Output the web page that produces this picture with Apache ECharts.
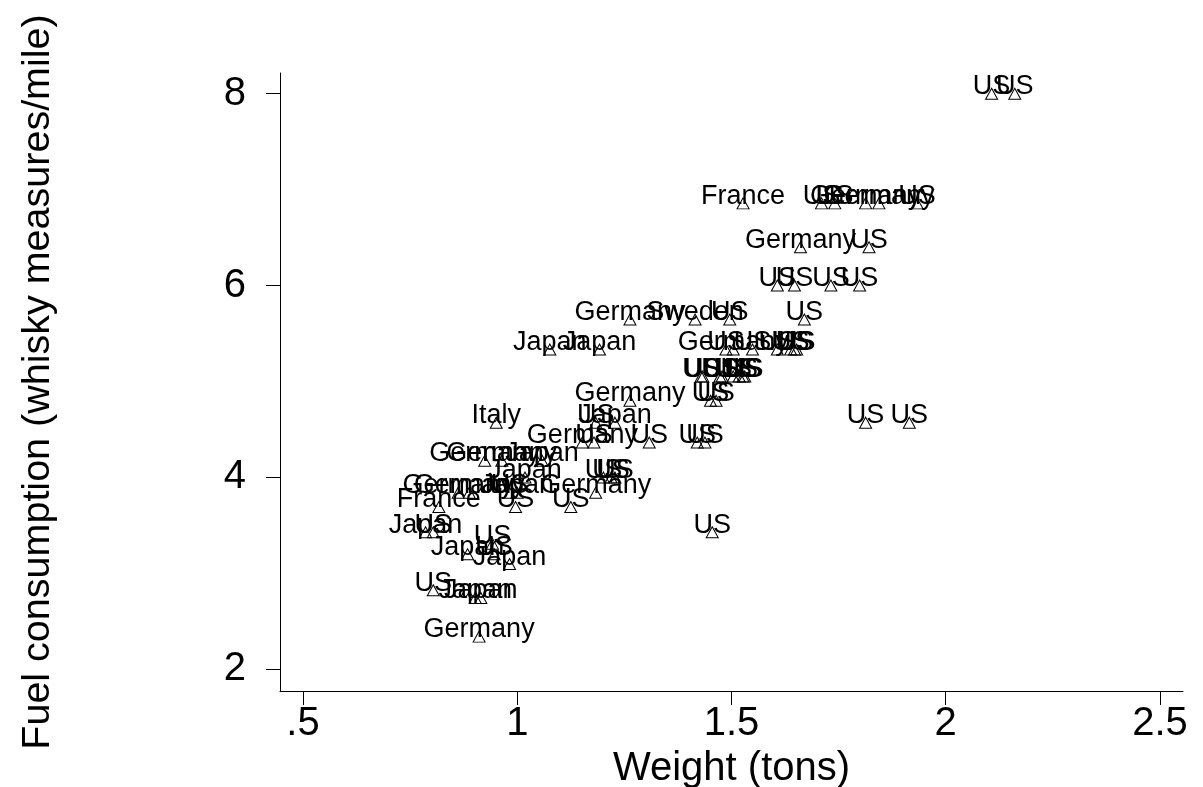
<!DOCTYPE html>
<html>
<head>
<meta charset="utf-8">
<script src="https://cdn.jsdelivr.net/npm/echarts@6/dist/echarts.min.js"></script>
<style>
html,body{margin:0;padding:0;background:#fff;}
#chart{width:1203px;height:787px;}
</style>
</head>
<body>
<div id="chart"></div>
<script>
// Country label of each car
const countries = [
  'US','US','US','US','US','US','US','US','US','US',
  'US','US','US','US','US','US','US','US','US','US',
  'US','US','US','US','US','US','US','US','Germany','Germany',
  'Germany','Germany','Germany','Germany','US','US','US','US','US','US',
  'US','US','US','US','US','US','US','US','US','US',
  'US','US','Germany','Germany','Germany','Japan','Japan','Japan','Japan','Italy',
  'Japan','Japan','Japan','France','France','Japan','Japan','Japan','Japan','Germany',
  'Germany','Germany','Germany','Sweden'
];
// Weight (tons)
const weights = [
  1.308,1.496,1.179,1.451,1.821,1.638,0.996,1.464,1.732,1.518,
  1.933,1.741,1.915,0.942,1.647,1.420,1.438,1.228,1.531,0.946,
  1.607,1.607,1.670,0.804,1.183,2.161,2.107,1.710,1.152,1.813,
  1.661,1.504,1.844,1.263,1.813,1.478,1.473,1.647,1.504,1.219,
  1.799,1.455,0.804,0.982,1.125,1.487,1.652,1.549,1.433,1.429,
  1.527,1.201,1.263,0.924,1.183,1.058,0.902,1.018,1.228,0.951,
  1.000,0.786,0.884,1.527,0.817,0.915,1.076,0.982,1.192,0.964,
  0.911,0.862,0.888,1.415
];
// Fuel consumption (whisky measures/mile)
const fuel = [
  4.364,5.647,4.364,4.800,6.400,5.333,3.692,4.800,6.000,5.053,
  6.857,6.857,4.571,3.310,6.000,4.364,4.364,4.000,5.053,3.200,
  5.333,6.000,5.647,3.429,4.571,8.000,8.000,6.857,4.364,6.857,
  6.400,5.333,6.857,4.800,4.571,5.053,5.053,5.333,5.053,4.000,
  6.000,3.429,2.824,3.840,3.692,5.333,5.333,5.333,5.053,5.053,
  5.053,4.000,5.647,4.174,3.840,4.174,2.743,4.000,4.571,4.571,
  3.840,3.429,3.200,6.857,3.692,2.743,5.333,3.097,5.333,4.174,
  2.341,3.840,3.840,5.647
];
const xTicks = [0.5, 1, 1.5, 2, 2.5];
const xTickLabels = ['.5', '1', '1.5', '2', '2.5'];
const yTicks = [2, 4, 6, 8];
const yTickLabels = ['2', '4', '6', '8'];

const FONT = "'Liberation Sans', Arial, Helvetica, sans-serif";
const data = weights.map((w, i) => ({ value: [w, fuel[i]], name: countries[i] }));

const chart = echarts.init(document.getElementById('chart'), null, { renderer: 'canvas' });
chart.setOption({
  animation: false,
  backgroundColor: '#ffffff',
  grid: { left: 280, right: 20, top: 73, bottom: 96, containLabel: false, outerBoundsMode: 'none' },
  xAxis: {
    type: 'value',
    min: 0.4463, max: 2.5537,
    name: 'Weight (tons)',
    nameLocation: 'middle',
    nameGap: 45,
    nameTextStyle: { fontFamily: FONT, fontSize: 40, color: '#000' },
    axisLine: { show: true, onZero: false, lineStyle: { color: '#000', width: 1 } },
    axisTick: { show: true, length: 14, lineStyle: { color: '#000', width: 1 }, customValues: xTicks },
    axisLabel: {
      show: true, margin: 13, fontFamily: FONT, fontSize: 40, color: '#000',
      customValues: xTicks,
      formatter: v => xTickLabels[xTicks.indexOf(v)] ?? String(v)
    },
    splitLine: { show: false }
  },
  yAxis: {
    type: 'value',
    min: 1.774, max: 8.216,
    name: 'Fuel consumption (whisky measures/mile)',
    nameLocation: 'middle',
    nameGap: 222,
    nameTextStyle: { fontFamily: FONT, fontSize: 39.5, color: '#000' },
    axisLine: { show: true, onZero: false, lineStyle: { color: '#000', width: 1 } },
    axisTick: { show: true, length: 14, lineStyle: { color: '#000', width: 1 }, customValues: yTicks },
    axisLabel: {
      show: true, margin: 34, fontFamily: FONT, fontSize: 40, color: '#000',
      customValues: yTicks,
      formatter: v => yTickLabels[yTicks.indexOf(v)] ?? String(v)
    },
    splitLine: { show: false }
  },
  series: [{
    type: 'scatter',
    data: data,
    symbol: 'triangle',
    symbolSize: [12, 11],
    itemStyle: { color: 'rgba(255,255,255,0)', borderColor: '#000', borderWidth: 1, opacity: 1 },
    label: {
      show: true,
      position: 'inside',
      offset: [0, -7],
      formatter: p => p.name,
      fontFamily: FONT,
      fontSize: 27,
      color: '#000',
      opacity: 1,
      textBorderWidth: 0,
      textBorderColor: 'transparent',
      textShadowBlur: 0
    },
    emphasis: { disabled: true }
  }]
});
</script>
</body>
</html>
